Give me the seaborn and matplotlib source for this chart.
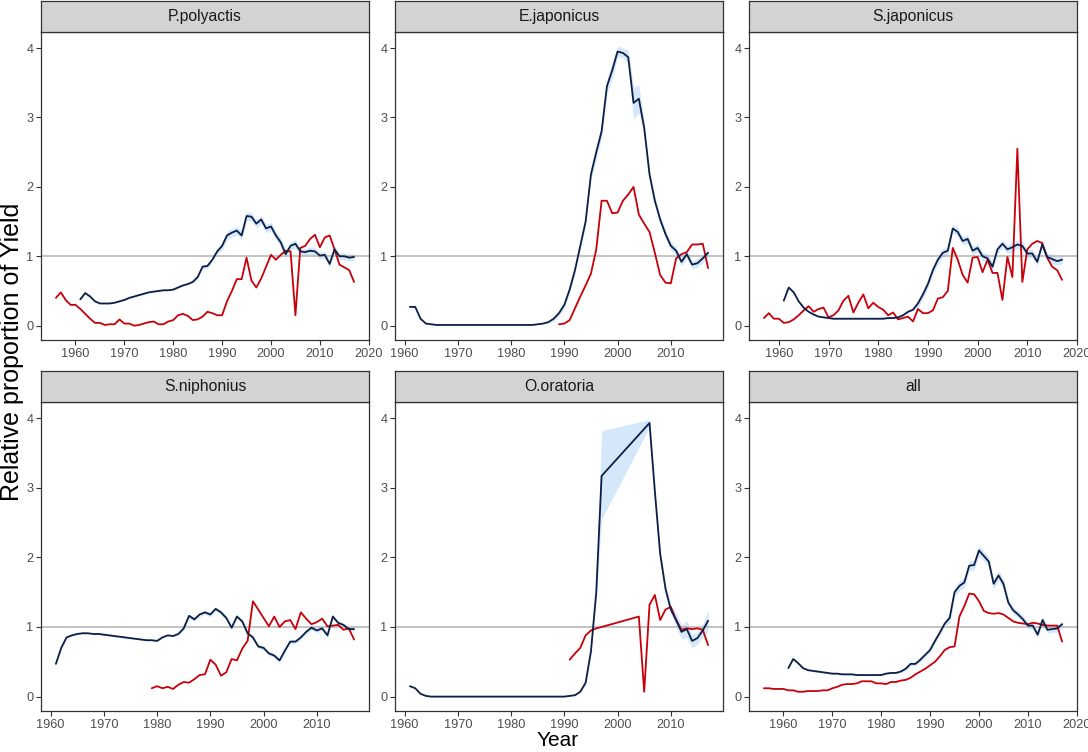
import numpy as np
import pandas as pd
import matplotlib
matplotlib.use("Agg")
import matplotlib.pyplot as plt
import seaborn as sns

sns.set_theme(style="white")
plt.rcParams['font.family'] = ['Liberation Sans', 'DejaVu Sans']

panels = ["P.polyactis", "E.japonicus", "S.japonicus", "S.niphonius", "O.oratoria", "all"]

# ---------------- P.polyactis ----------------
pp_red_years = list(range(1956, 2018))
pp_red = [0.40, 0.48, 0.37, 0.30, 0.30, 0.24, 0.17, 0.10, 0.04, 0.04,
          0.01, 0.02, 0.02, 0.09, 0.03, 0.03, 0.00, 0.01, 0.03, 0.05,
          0.06, 0.02, 0.02, 0.06, 0.08, 0.15, 0.17, 0.14, 0.08, 0.09,
          0.13, 0.20, 0.18, 0.15, 0.15, 0.35, 0.50, 0.67, 0.67, 0.98,
          0.65, 0.55, 0.68, 0.85, 1.02, 0.95, 1.02, 1.08, 1.07, 0.15,
          1.12, 1.15, 1.25, 1.31, 1.13, 1.27, 1.30, 1.10, 0.88, 0.84,
          0.80, 0.63]
pp_nav_years = list(range(1961, 2018))
pp_nav = [0.38, 0.47, 0.42, 0.35, 0.32, 0.32, 0.32, 0.33, 0.35, 0.37,
          0.40, 0.42, 0.44, 0.46, 0.48, 0.49, 0.50, 0.51, 0.51, 0.52,
          0.55, 0.58, 0.60, 0.63, 0.70, 0.85, 0.86, 0.95, 1.07, 1.15,
          1.30, 1.34, 1.37, 1.30, 1.58, 1.57, 1.47, 1.53, 1.40, 1.43,
          1.30, 1.20, 1.03, 1.15, 1.18, 1.07, 1.06, 1.08, 1.07, 1.01,
          1.02, 0.89, 1.10, 1.00, 1.00, 0.98, 0.99]
pp_se = [0.01] * 24 + [0.03] * 5 + [0.06] * 16 + [0.05] * 12

# ---------------- E.japonicus ----------------
ej_red_years = list(range(1989, 2018))
ej_red = [0.02, 0.03, 0.08, 0.25, 0.42, 0.58, 0.75, 1.10, 1.80, 1.80,
          1.62, 1.63, 1.80, 1.89, 2.00, 1.60, 1.47, 1.35, 1.05, 0.73,
          0.62, 0.61, 0.97, 1.03, 1.06, 1.17, 1.17, 1.18, 0.83]
ej_nav_years = list(range(1961, 2018))
ej_nav = [0.27, 0.27, 0.10, 0.03, 0.02, 0.01, 0.01, 0.01, 0.01, 0.01,
          0.01, 0.01, 0.01, 0.01, 0.01, 0.01, 0.01, 0.01, 0.01, 0.01,
          0.01, 0.01, 0.01, 0.01, 0.02, 0.03, 0.05, 0.10, 0.18, 0.30,
          0.52, 0.80, 1.15, 1.50, 2.18, 2.50, 2.80, 3.45, 3.68, 3.95,
          3.93, 3.87, 3.21, 3.27, 2.85, 2.18, 1.80, 1.53, 1.32, 1.15,
          1.08, 0.92, 1.03, 0.88, 0.90, 0.97, 1.05]
ej_se = ([0.005] * 27 + [0.04] * 7 +
         [0.08, 0.10, 0.10, 0.10, 0.12, 0.08, 0.07, 0.10, 0.23, 0.20, 0.10] +
         [0.06] * 12)

# ---------------- S.japonicus ----------------
sj_red_years = list(range(1957, 2018))
sj_red = [0.11, 0.18, 0.10, 0.10, 0.04, 0.05, 0.09, 0.15, 0.22, 0.28,
          0.20, 0.24, 0.26, 0.12, 0.15, 0.22, 0.36, 0.43, 0.19, 0.33,
          0.45, 0.25, 0.33, 0.27, 0.23, 0.15, 0.19, 0.09, 0.11, 0.13,
          0.06, 0.24, 0.18, 0.18, 0.22, 0.39, 0.41, 0.50, 1.12, 0.95,
          0.73, 0.62, 0.98, 0.99, 0.77, 0.95, 0.76, 0.76, 0.37, 0.99,
          0.70, 2.55, 0.63, 1.10, 1.18, 1.22, 1.19, 0.98, 0.85, 0.80,
          0.66]
sj_nav_years = list(range(1961, 2018))
sj_nav = [0.36, 0.55, 0.48, 0.35, 0.26, 0.20, 0.16, 0.13, 0.12, 0.11,
          0.10, 0.10, 0.10, 0.10, 0.10, 0.10, 0.10, 0.10, 0.10, 0.10,
          0.10, 0.11, 0.11, 0.12, 0.15, 0.20, 0.23, 0.32, 0.45, 0.60,
          0.80, 0.95, 1.05, 1.08, 1.40, 1.35, 1.22, 1.25, 1.08, 1.12,
          1.00, 0.97, 0.85, 1.10, 1.18, 1.10, 1.13, 1.17, 1.15, 1.04,
          1.04, 0.92, 1.17, 0.99, 0.96, 0.93, 0.95]
sj_se = [0.01] * 27 + [0.06] * 30

# ---------------- S.niphonius ----------------
sn_red_years = list(range(1979, 2018))
sn_red = [0.12, 0.15, 0.12, 0.14, 0.11, 0.17, 0.21, 0.20, 0.25, 0.31,
          0.32, 0.53, 0.46, 0.30, 0.35, 0.54, 0.52, 0.69, 0.80, 1.37,
          1.25, 1.13, 1.01, 1.15, 1.00, 1.08, 1.10, 0.97, 1.21, 1.12,
          1.04, 1.07, 1.12, 1.01, 1.02, 1.03, 0.96, 0.98, 0.82]
sn_nav_years = list(range(1961, 2018))
sn_nav = [0.47, 0.70, 0.85, 0.88, 0.90, 0.91, 0.91, 0.90, 0.90, 0.89,
          0.88, 0.87, 0.86, 0.85, 0.84, 0.83, 0.82, 0.81, 0.81, 0.80,
          0.85, 0.88, 0.87, 0.90, 0.98, 1.16, 1.11, 1.18, 1.21, 1.18,
          1.26, 1.21, 1.13, 0.99, 1.15, 1.08, 0.91, 0.85, 0.72, 0.70,
          0.62, 0.59, 0.52, 0.66, 0.79, 0.79, 0.85, 0.93, 0.99, 0.95,
          0.98, 0.88, 1.15, 1.06, 1.03, 0.97, 0.97]
sn_se = [0.01] * 24 + [0.03] * 33

# ---------------- O.oratoria ----------------
oo_red_years = list(range(1991, 1998)) + list(range(2004, 2018))
oo_red = [0.53, 0.62, 0.70, 0.88, 0.95, 0.98, 1.00,
          1.15, 0.07, 1.32, 1.46, 1.10, 1.25, 1.29, 1.10, 0.96, 0.98,
          0.97, 0.98, 0.96, 0.74]
oo_nav_years = list(range(1961, 1998)) + list(range(2006, 2018))
oo_nav = [0.15, 0.12, 0.04, 0.01] + [0.0] * 26 + [0.01, 0.02, 0.07, 0.20,
          0.65, 1.50, 3.17,
          3.93, 2.95, 2.05, 1.55, 1.25, 1.10, 0.93, 0.97, 0.80, 0.84,
          0.95, 1.09]
oo_se_lo = ([0.005] * 33 + [0.03, 0.05, 0.10, 0.62] +
            [0.06, 0.10, 0.08, 0.06, 0.06, 0.10, 0.10, 0.12, 0.10, 0.08, 0.10, 0.15])
oo_se_hi = ([0.005] * 33 + [0.03, 0.05, 0.10, 0.65] +
            [0.05, 0.10, 0.08, 0.06, 0.06, 0.10, 0.10, 0.12, 0.10, 0.08, 0.10, 0.15])

# ---------------- all ----------------
al_red_years = list(range(1956, 2018))
al_red = [0.12, 0.12, 0.11, 0.11, 0.11, 0.09, 0.09, 0.07, 0.07, 0.08,
          0.08, 0.08, 0.09, 0.09, 0.12, 0.14, 0.17, 0.18, 0.18, 0.19,
          0.22, 0.22, 0.22, 0.19, 0.19, 0.18, 0.21, 0.21, 0.23, 0.24,
          0.27, 0.32, 0.36, 0.40, 0.45, 0.50, 0.58, 0.67, 0.71, 0.72,
          1.15, 1.30, 1.48, 1.47, 1.37, 1.23, 1.20, 1.19, 1.20, 1.18,
          1.13, 1.08, 1.06, 1.05, 1.04, 1.06, 1.05, 1.03, 1.02, 1.02,
          1.02, 0.79]
al_nav_years = list(range(1961, 2018))
al_nav = [0.41, 0.54, 0.48, 0.41, 0.38, 0.37, 0.36, 0.35, 0.34, 0.33,
          0.33, 0.32, 0.32, 0.32, 0.31, 0.31, 0.31, 0.31, 0.31, 0.31,
          0.33, 0.34, 0.34, 0.36, 0.40, 0.47, 0.47, 0.53, 0.60, 0.67,
          0.80, 0.92, 1.05, 1.13, 1.50, 1.59, 1.64, 1.88, 1.89, 2.10,
          2.02, 1.94, 1.62, 1.74, 1.62, 1.35, 1.24, 1.18, 1.11, 1.02,
          1.02, 0.89, 1.10, 0.96, 0.97, 0.98, 1.04]
al_se = [0.01] * 24 + [0.03] * 9 + [0.07] * 12 + [0.05] * 12

data = {
    "P.polyactis": (pp_red_years, pp_red, pp_nav_years, pp_nav, pp_se, pp_se),
    "E.japonicus": (ej_red_years, ej_red, ej_nav_years, ej_nav, ej_se, ej_se),
    "S.japonicus": (sj_red_years, sj_red, sj_nav_years, sj_nav, sj_se, sj_se),
    "S.niphonius": (sn_red_years, sn_red, sn_nav_years, sn_nav, sn_se, sn_se),
    "O.oratoria": (oo_red_years, oo_red, oo_nav_years, oo_nav, oo_se_lo, oo_se_hi),
    "all": (al_red_years, al_red, al_nav_years, al_nav, al_se, al_se),
}

RED = "#C8000A"
NAVY = "#0B1F47"
RIBBON = "#D5E7FA"
BORDER = "#333333"
STRIP = "#D3D3D3"
TICKC = "#4D4D4D"

W, H = 1088, 752
fig = plt.figure(figsize=(W / 100, H / 100), dpi=100)

col_left = [41, 395, 749]
col_w = 328
row_strip_top = [1, 371]
strip_h = 31
row_bottom = [340, 711]

# global y-range from data (ggplot 5% expansion)
all_lo, all_hi = [], []
for k, (ry, rv, ny, nv, slo, shi) in data.items():
    all_lo += list(np.array(nv) - np.array(slo)) + list(rv)
    all_hi += list(np.array(nv) + np.array(shi)) + list(rv)
ymin, ymax = min(all_lo), max(all_hi)
yr = ymax - ymin
ylim = (ymin - 0.05 * yr, ymax + 0.05 * yr)

for i, name in enumerate(panels):
    r, c = divmod(i, 3)
    ry, rv, ny, nv, slo, shi = data[name]
    left = col_left[c] / W
    ax_top = row_strip_top[r] + strip_h
    bottom = 1 - row_bottom[r] / H
    height = (row_bottom[r] - ax_top) / H
    ax = fig.add_axes([left, bottom, col_w / W, height])

    ny_arr = np.array(ny)
    nv_arr = np.array(nv)
    ax.fill_between(ny_arr, nv_arr - np.array(slo), nv_arr + np.array(shi),
                    color=RIBBON, lw=0, zorder=1)
    ax.axhline(1, color="#B3B3B3", lw=1.1, zorder=2)
    df_red = pd.DataFrame({"Year": ry, "val": rv})
    df_nav = pd.DataFrame({"Year": ny, "val": nv})
    sns.lineplot(data=df_red, x="Year", y="val", color=RED, lw=1.3,
                 estimator=None, sort=False, ax=ax, zorder=3)
    sns.lineplot(data=df_nav, x="Year", y="val", color=NAVY, lw=1.3,
                 estimator=None, sort=False, ax=ax, zorder=4)

    xmin = min(min(ry), min(ny))
    xmax = max(max(ry), max(ny))
    xr = xmax - xmin
    ax.set_xlim(xmin - 0.05 * xr, xmax + 0.05 * xr)
    ax.set_ylim(*ylim)
    xt = [t for t in range(1960, 2021, 10) if xmin - 0.05 * xr <= t <= xmax + 0.05 * xr]
    ax.set_xticks(xt)
    ax.set_yticks([0, 1, 2, 3, 4])
    ax.set_xlabel("")
    ax.set_ylabel("")
    ax.tick_params(axis="both", which="both", direction="out", length=3.5,
                   width=0.8, color=BORDER, labelsize=9.2, labelcolor=TICKC,
                   pad=2, bottom=True, left=True)
    for sp in ax.spines.values():
        sp.set_color(BORDER)
        sp.set_linewidth(0.9)
    ax.grid(False)
    ax.set_facecolor("white")

    # strip
    sax = fig.add_axes([left, 1 - ax_top / H, col_w / W, strip_h / H])
    sax.set_facecolor(STRIP)
    sax.set_xticks([])
    sax.set_yticks([])
    for sp in sax.spines.values():
        sp.set_color(BORDER)
        sp.set_linewidth(0.9)
    sax.text(0.5, 0.5, name, ha="center", va="center", fontsize=11.3,
             color="#1A1A1A", transform=sax.transAxes)

fig.text(12 / W, 1 - 352 / H, "Relative proportion of Yield", rotation=90,
         ha="center", va="center", fontsize=18, color="black")
fig.text(558 / W, 1 - 741 / H, "Year", ha="center", va="center",
         fontsize=15, color="black")

fig.savefig("out.png", dpi=100)
